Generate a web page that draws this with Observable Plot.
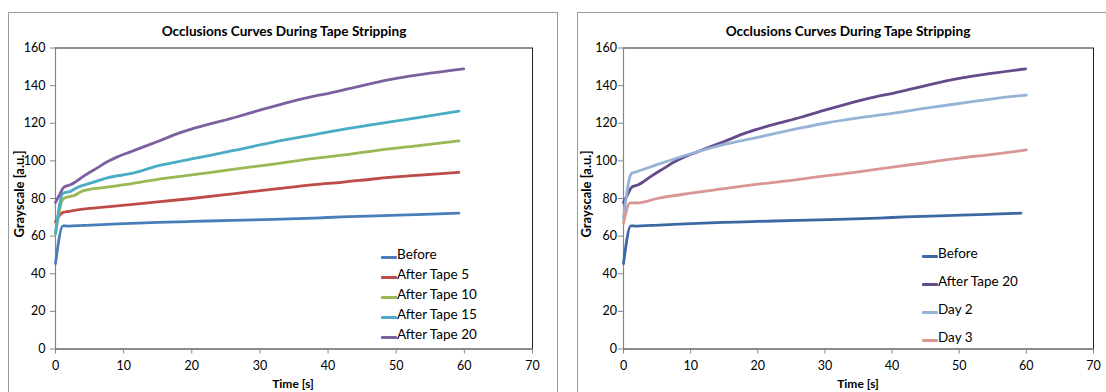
<!DOCTYPE html>
<html>
<head>
<meta charset="utf-8">
<script src="https://cdn.jsdelivr.net/npm/d3@7"></script>
<script src="https://cdn.jsdelivr.net/npm/@observablehq/plot@0.6"></script>
<style>
  html, body { margin: 0; padding: 0; background: #fff; }
  #page { position: relative; width: 1106px; height: 392px; overflow: hidden; font-family: Lato, sans-serif; color: #000; }
  .frame { position: absolute; border: 1px solid #9a9a9a; box-sizing: border-box; }
  .plot { position: absolute; top: 0; }
  .title { position: absolute; font-weight: bold; font-size: 13.6px; white-space: nowrap; transform: translate(-50%, -50%); }
  .xlabel { position: absolute; font-weight: bold; font-size: 12px; white-space: nowrap; transform: translate(-50%, -50%); }
  .ylabel { position: absolute; font-weight: bold; font-size: 13px; white-space: nowrap; transform: translate(-50%, -50%) rotate(-90deg); }
  .legend { position: absolute; font-size: 13.5px; }
  .legend .item { position: absolute; white-space: nowrap; display: flex; align-items: center; transform: translateY(-50%); }
  .legend .sw { display: inline-block; width: 16px; height: 3px; border-radius: 1px; }
</style>
</head>
<body>
<div id="page"></div>
<script>
// ---------- data ----------
const titleText = "Occlusions Curves During Tape Stripping";
const xLabel = "Time [s]";
const yLabel = "Grayscale [a.u.]";
const xTicks = [0, 10, 20, 30, 40, 50, 60, 70];
const yTicks = [0, 20, 40, 60, 80, 100, 120, 140, 160];

// Left chart
const tBefore = [0, 1.1, 2, 4, 7.5, 11, 15, 20, 26, 32, 38, 42, 47, 53, 59.2];
const vBefore = [45.4, 65.5, 65.3, 65.7, 66.2, 66.8, 67.3, 67.8, 68.4, 68.9, 69.6, 70.2, 70.8, 71.4, 72.2];

const tTape5 = [0, 1.1, 2, 4, 7.5, 11, 15, 20, 26, 32, 38, 42, 47, 53, 59.2];
const vTape5 = [67.6, 72.6, 73.2, 74.3, 75.5, 76.7, 78.2, 80.0, 82.5, 85.0, 87.4, 88.6, 90.5, 92.3, 93.9];

const tTape10 = [0, 1.1, 2, 2.7, 4, 7.5, 11, 15, 20, 26, 32, 38, 42, 47, 53, 59.2];
const vTape10 = [61.1, 79.7, 81.0, 81.5, 84.1, 86.0, 87.8, 90.2, 92.5, 95.5, 98.3, 101.3, 103.0, 105.5, 108.0, 110.6];

const tTape15 = [0, 1.1, 2.2, 3.2, 5, 7.6, 11, 15, 20, 26, 32, 38, 42, 47, 53, 59.2];
const vTape15 = [61.5, 82.7, 83.8, 85.9, 88.0, 91.0, 93.2, 97.3, 101.0, 105.4, 110.0, 114.0, 116.6, 119.5, 122.8, 126.4];

const tTape20 = [0, 0.6, 1.2, 2.2, 3, 4.2, 6, 7.6, 9, 11, 13, 15, 18.3, 22, 26.4, 30, 34, 37, 40.4, 45, 50, 55, 59.9];
const vTape20 = [77.9, 82.0, 85.9, 87.3, 89.0, 92.0, 96.0, 99.5, 102.0, 104.8, 107.6, 110.3, 115.0, 119.0, 123.2, 127.0, 131.0, 133.6, 136.2, 140.0, 143.8, 146.6, 148.9];

// Right chart extra series
const tDay2 = [0, 1.2, 2, 5, 10, 15, 20, 25, 30, 35, 40, 45, 50, 55, 60];
const vDay2 = [69.5, 93.4, 94.3, 98.0, 103.8, 108.8, 112.5, 116.5, 120.0, 122.8, 125.2, 128.0, 130.5, 133.0, 135.0];

const tDay3 = [0, 1, 2, 5, 10, 15, 20, 25.6, 30, 35, 39.8, 45, 50, 55, 60];
const vDay3 = [66.9, 77.7, 77.6, 80.0, 82.8, 85.2, 87.6, 89.9, 92.0, 94.2, 96.6, 99.0, 101.5, 103.5, 105.8];

const leftNames = ["Before", "After Tape 5", "After Tape 10", "After Tape 15", "After Tape 20"];
const leftColors = ["#4A7EBB", "#BE4B48", "#98B954", "#4BACC6", "#7D60A0"];
const rightNames = ["Before", "After Tape 20", "Day 2", "Day 3"];
const rightColors = ["#3C68A3", "#654A8C", "#95B3D7", "#D99694"];

// ---------- helpers ----------
function rows(name, ts, vs) { return ts.map((t, i) => ({ series: name, t, v: vs[i] })); }

const leftData = [
  ...rows("Before", tBefore, vBefore),
  ...rows("After Tape 5", tTape5, vTape5),
  ...rows("After Tape 10", tTape10, vTape10),
  ...rows("After Tape 15", tTape15, vTape15),
  ...rows("After Tape 20", tTape20, vTape20)
];
const rightData = [
  ...rows("Before", tBefore, vBefore),
  ...rows("After Tape 20", tTape20, vTape20),
  ...rows("Day 2", tDay2, vDay2),
  ...rows("Day 3", tDay3, vDay3)
];

function makePlot(data, names, colors, width, mLeft, mRight, yPad) {
  return Plot.plot({
    width, height: 392,
    marginLeft: mLeft, marginRight: mRight, marginTop: 47.5, marginBottom: 43.5,
    x: { domain: [0, 70] },
    y: { domain: [0, 160] },
    color: { domain: names, range: colors },
    style: { fontFamily: "Lato, sans-serif", fontSize: "12.5px", color: "#000", background: "transparent", overflow: "visible" },
    marks: [
      Plot.frame({ stroke: "#222", strokeWidth: 1 }),
      Plot.ruleX([0], { stroke: "#868686", strokeWidth: 1.2 }),
      Plot.ruleY([0], { stroke: "#868686", strokeWidth: 1.2 }),
      Plot.axisY({ ticks: yTicks, tickSize: 5, tickPadding: yPad, label: null, stroke: "#868686", fill: "#000" }),
      Plot.axisX({ ticks: xTicks, tickSize: 5, tickPadding: 7, label: null, stroke: "#868686", fill: "#000" }),
      Plot.line(data, { x: "t", y: "v", z: "series", stroke: "series", strokeWidth: 2.8, curve: "monotone-x", strokeLinejoin: "round", strokeLinecap: "round" })
    ]
  });
}

const page = document.getElementById("page");

function addEl(cls, text, style) {
  const d = document.createElement("div");
  d.className = cls;
  if (text != null) d.textContent = text;
  Object.assign(d.style, style);
  page.appendChild(d);
  return d;
}

// frames
addEl("frame", null, { left: "8px", top: "12px", width: "550px", height: "420px" });
addEl("frame", null, { left: "577px", top: "12px", width: "560px", height: "420px" });

// left plot
const p1 = makePlot(leftData, leftNames, leftColors, 560, 55, 28, 5);
p1.classList.add("plot"); p1.style.left = "0px";
page.appendChild(p1);
// right plot
const p2 = makePlot(rightData, rightNames, rightColors, 546, 63, 13, 1.5);
p2.classList.add("plot"); p2.style.left = "560px";
page.appendChild(p2);

// titles & labels
addEl("title", titleText, { left: "284px", top: "31px" });
addEl("title", titleText, { left: "848px", top: "31px" });
addEl("xlabel", xLabel, { left: "293px", top: "383px" });
addEl("xlabel", xLabel, { left: "858px", top: "383px" });
addEl("ylabel", yLabel, { left: "19px", top: "194px" });
addEl("ylabel", yLabel, { left: "586px", top: "194px" });

// legends
function legend(names, colors, x, y0, dy) {
  names.forEach((n, i) => {
    const it = addEl("legend item", null, { left: x + "px", top: (y0 + i * dy) + "px" });
    const sw = document.createElement("span");
    sw.className = "sw"; sw.style.background = colors[i];
    const tx = document.createElement("span");
    tx.textContent = n;
    it.appendChild(sw); it.appendChild(tx);
  });
}
legend(leftNames, leftColors, 381, 246, 20);
legend(rightNames, rightColors, 922, 244.5, 28.3);
</script>
</body>
</html>
